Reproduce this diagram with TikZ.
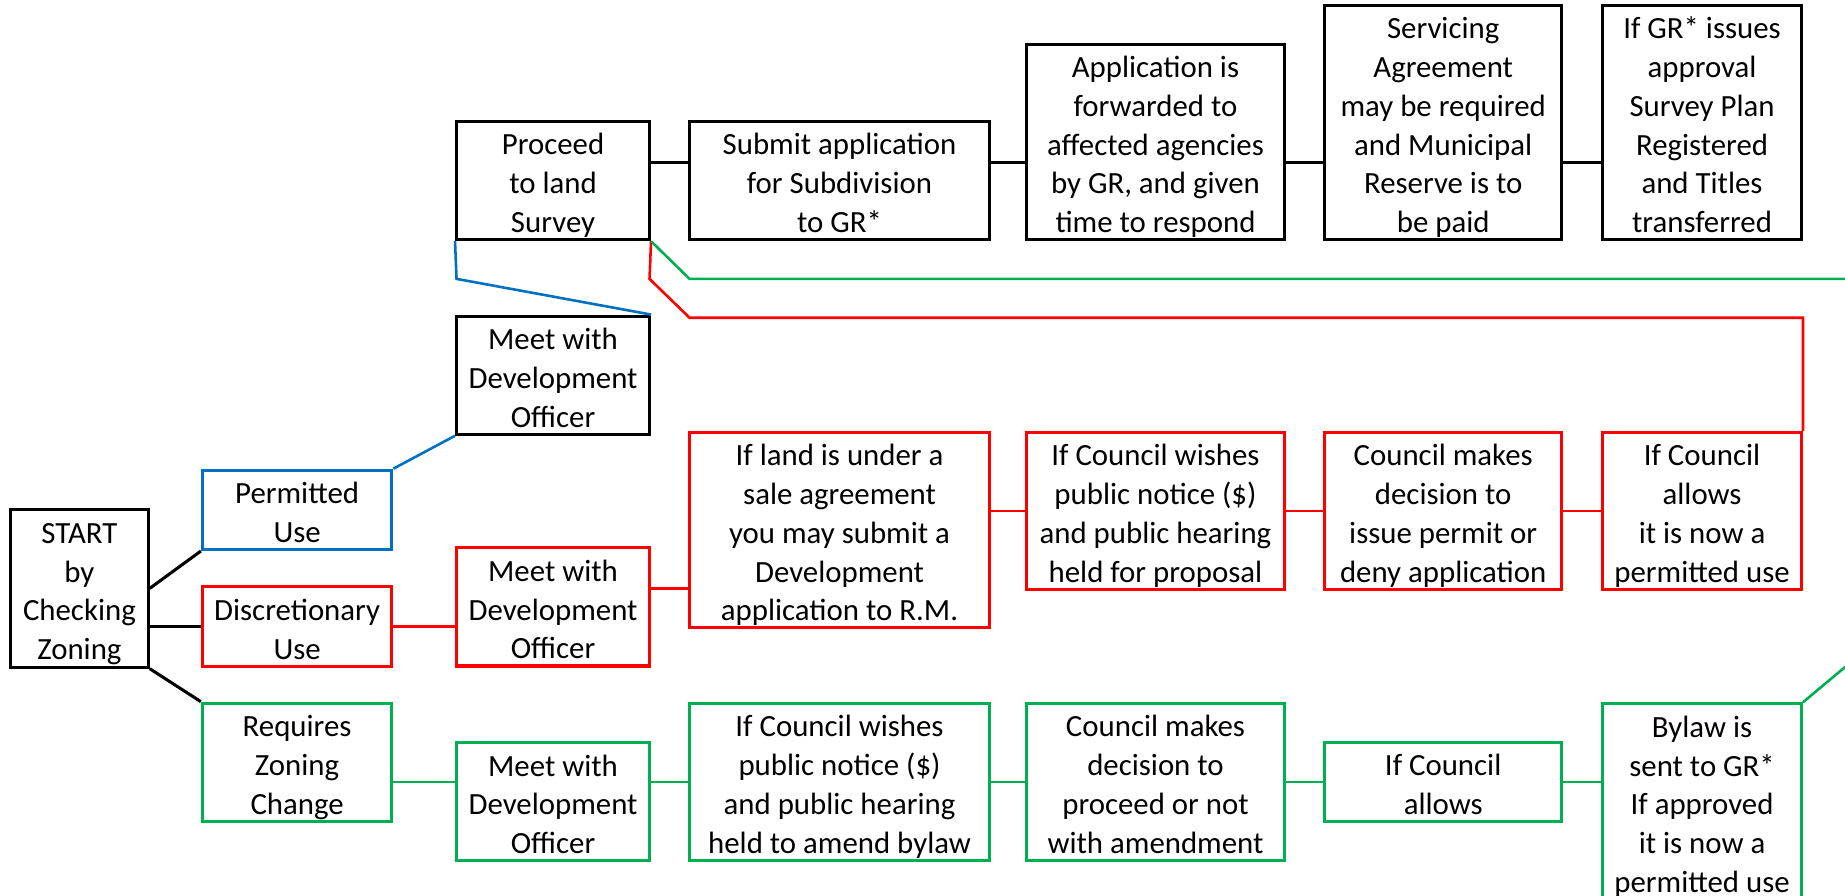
\documentclass[tikz,border=0pt]{standalone}
\usepackage{fontspec}
\setmainfont{Carlito}
\definecolor{cblue}{HTML}{0070C0}
\definecolor{cred}{HTML}{FF0000}
\definecolor{cgreen}{HTML}{00B050}
\newcommand\topstr{\rule{0pt}{14.2pt}}
\newcommand\botstr{\rule[-3pt]{0pt}{3pt}}
\tikzset{
  box/.style={draw=#1, line width=1.3pt, inner sep=0pt, align=center,
    font=\fontsize{13.1}{16.5}\selectfont},
  kline/.style={draw=black, line width=1.3pt},
  bline/.style={draw=cblue, line width=1.1pt},
  rline/.style={draw=cred, line width=1.1pt},
  gline/.style={draw=cgreen, line width=1.1pt},
}
\begin{document}
\begin{tikzpicture}[x=0.5pt,y=-0.5pt]
\useasboundingbox (0,0) rectangle (1568,761);
\fill[white] (0,0) rectangle (1568,761);
\clip (0,0) rectangle (1568,761);
% left column
\node[box=black, minimum width=58.5pt, minimum height=67pt] (start) at (67.5,500) {\topstr START\\by\\Checking\\Zoning\botstr};
\node[box=cblue, minimum width=80.5pt, minimum height=33.3pt] (perm) at (252.5,433.3) {\topstr Permitted\\Use\botstr};
\node[box=cred, minimum width=80.5pt, minimum height=32.5pt] (disc) at (252.5,532.5) {\topstr Discretionary\\Use\botstr};
\node[box=cgreen, minimum width=80.5pt, minimum height=49.2pt] (req) at (252.5,647.8) {\topstr Requires\\Zoning\\Change\botstr};
% meet column
\node[box=black, minimum width=82pt, minimum height=49.5pt] (meetB) at (470,318.85) {\topstr Meet with\\Development\\Officer\botstr};
\node[box=cred, minimum width=82pt, minimum height=49.2pt] (meetR) at (470,515.8) {\topstr Meet with\\Development\\Officer\botstr};
\node[box=cgreen, minimum width=82pt, minimum height=49.7pt] (meetG) at (470,681.3) {\topstr Meet with\\Development\\Officer\botstr};
% top row
\node[box=black, minimum width=82pt, minimum height=49pt] (proc) at (470,153.5) {\topstr Proceed\\to land\\Survey\botstr};
\node[box=black, minimum width=127.5pt, minimum height=49pt] (sub) at (713.5,153.5) {\topstr Submit application\\for Subdivision\\to GR*\botstr};
\node[box=black, minimum width=110pt, minimum height=81.85pt] (appl) at (982,120.65) {\topstr Application is\\forwarded to\\affected agencies\\by GR, and given\\time to respond\botstr};
\node[box=black, minimum width=100.5pt, minimum height=98.4pt] (serv) at (1226.5,104.1) {\topstr Servicing\\Agreement\\may be required\\and Municipal\\Reserve is to\\be paid\botstr};
\node[box=black, minimum width=84.5pt, minimum height=98.4pt] (ifgr) at (1446.5,104.1) {\topstr If GR* issues\\approval\\Survey Plan\\Registered\\and Titles\\transferred\botstr};
% red row
\node[box=cred, minimum width=127.5pt, minimum height=82.15pt] (ifland) at (713.5,450.45) {\topstr If land is under a\\sale agreement\\you may submit a\\Development\\application to R.M.\botstr};
\node[box=cred, minimum width=110pt, minimum height=65.85pt] (rpub) at (982,434.15) {\topstr If Council wishes\\public notice (\$)\\and public hearing\\held for proposal\botstr};
\node[box=cred, minimum width=100.5pt, minimum height=65.85pt] (rdec) at (1226.5,434.15) {\topstr Council makes\\decision to\\issue permit or\\deny application\botstr};
\node[box=cred, minimum width=84.5pt, minimum height=65.85pt] (rallow) at (1446.5,434.15) {\topstr If Council\\allows\\it is now a\\permitted use\botstr};
% green row
\node[box=cgreen, minimum width=127.5pt, minimum height=65.95pt] (gpub) at (713.5,664.5) {\topstr If Council wishes\\public notice (\$)\\and public hearing\\held to amend bylaw\botstr};
\node[box=cgreen, minimum width=110pt, minimum height=65.95pt] (gdec) at (982,664.5) {\topstr Council makes\\decision to\\proceed or not\\with amendment\botstr};
\node[box=cgreen, minimum width=100.5pt, minimum height=32.65pt] (gallow) at (1226.5,664.5) {\topstr If Council\\allows\botstr};
\node[box=cgreen, minimum width=84.5pt, minimum height=82.7pt] (bylaw) at (1446.5,681.3) {\topstr Bylaw is\\sent to GR*\\If approved\\it is now a\\permitted use\botstr};
% helper coordinates
\coordinate (ty) at ([yshift=7.75pt]proc.east);
\coordinate (ry) at ([yshift=7.9pt]meetR.east);
\coordinate (bk) at (388,237);
\coordinate (r2) at (586,270);
\coordinate (r3) at (552,237);
\coordinate (g3) at (586,237);
\coordinate (g2) at (1620,237);
\coordinate (g1) at (1620,523.4);
% black connectors
\draw[kline] (start.east) -- (perm.south west);
\draw[kline] (start.east |- disc.west) -- (disc.west);
\draw[kline] (start.south east) -- (req.north west);
\draw[kline] (ty) -- (sub.west |- ty);
\draw[kline] (sub.east |- ty) -- (appl.west |- ty);
\draw[kline] (appl.east |- ty) -- (serv.west |- ty);
\draw[kline] (serv.east |- ty) -- (ifgr.west |- ty);
% blue
\draw[bline] (perm.north east) -- (meetB.south west);
\draw[bline] (meetB.north east) -- (bk) -- (proc.south west);
% red
\draw[rline] (disc.east) -- (disc.east -| meetR.west);
\draw[rline] (ry) -- (ifland.west |- ry);
\draw[rline] (ifland.east |- rpub.west) -- (rpub.west);
\draw[rline] (rpub.east) -- (rdec.west);
\draw[rline] (rdec.east) -- (rallow.west);
\draw[rline] (rallow.north east) -- (rallow.north east |- r2) -- (r2) -- (r3) -- (proc.south east);
% green
\draw[gline] (req.east |- gpub.west) -- (meetG.west |- gpub.west);
\draw[gline] (meetG.east |- gpub.west) -- (gpub.west);
\draw[gline] (gpub.east) -- (gdec.west);
\draw[gline] (gdec.east) -- (gallow.west);
\draw[gline] (gallow.east) -- (bylaw.west |- gallow.east);
\draw[gline] (bylaw.north east) -- (g1) -- (g2) -- (g3) -- (proc.south east);
\end{tikzpicture}
\end{document}
